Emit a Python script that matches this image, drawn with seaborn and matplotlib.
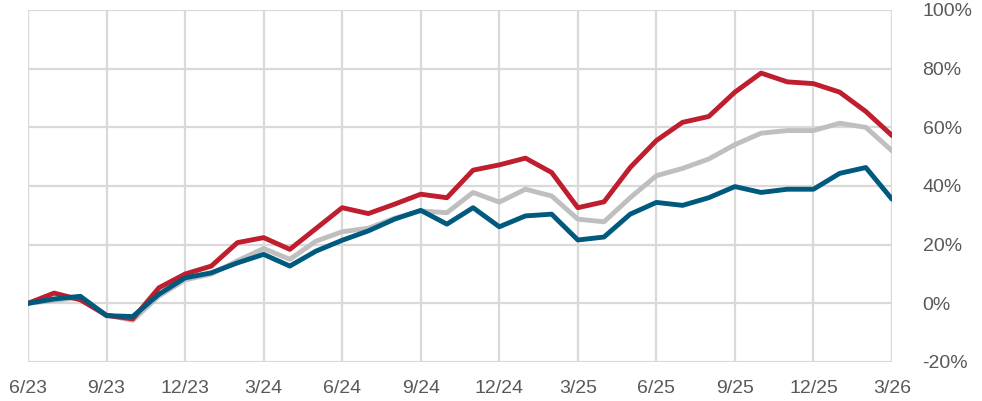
import numpy as np
import pandas as pd
import matplotlib
matplotlib.use("Agg")
import matplotlib.pyplot as plt
import seaborn as sns

# ---- data (cumulative return, %) monthly 6/23 .. 3/26 ----
months = pd.date_range("2023-06-01", "2026-03-01", freq="MS")
red_vals = [0, 3.5, 1.2, -4.1, -5.3, 5.3, 10, 12.7, 20.7, 22.4, 18.4, 25.5,
            32.6, 30.6, 33.8, 37.2, 36, 45.4, 47.2, 49.5, 44.6, 32.6, 34.6, 46.3,
            55.5, 61.7, 63.7, 72, 78.5, 75.5, 74.9, 72, 65.4, 57.2]
gray_vals = [0, 1.0, 2.0, -4.0, -5.8, 2.5, 8, 10, 14.5, 18.7, 15, 21.2,
             24.4, 25.6, 29, 31.5, 30.9, 37.8, 34.5, 38.9, 36.6, 28.7, 27.8, 36,
             43.5, 46, 49.2, 54.1, 58, 58.9, 58.9, 61.4, 60, 52]
blue_vals = [0, 1.5, 2.4, -4.2, -4.5, 3.1, 8.7, 10.4, 13.8, 16.7, 12.7, 17.8,
             21.5, 24.7, 28.7, 31.7, 27, 32.6, 26.1, 29.8, 30.4, 21.6, 22.6, 30.4,
             34.4, 33.4, 36, 39.8, 37.8, 38.9, 38.9, 44.3, 46.3, 35.5]
series_names = ["gray", "red", "blue"]
tick_labels = ["6/23", "9/23", "12/23", "3/24", "6/24", "9/24", "12/24",
               "3/25", "6/25", "9/25", "12/25", "3/26"]
y_ticks = [-20, 0, 20, 40, 60, 80, 100]

idx = np.arange(len(months))
df = pd.concat([
    pd.DataFrame({"i": idx, "value": gray_vals, "series": "gray"}),
    pd.DataFrame({"i": idx, "value": red_vals, "series": "red"}),
    pd.DataFrame({"i": idx, "value": blue_vals, "series": "blue"}),
])

sns.set_style("white")
plt.rcParams["font.family"] = ["Liberation Sans", "DejaVu Sans"]

fig = plt.figure(figsize=(9.82, 4.01), dpi=100)
ax = fig.add_axes([28 / 982, (401 - 362) / 401, (892 - 28) / 982, (362 - 10) / 401])

palette = {"gray": "#BFBFBF", "red": "#BE1E2D", "blue": "#005A7E"}
sns.lineplot(data=df, x="i", y="value", hue="series", hue_order=series_names,
             palette=palette, linewidth=3.5, ax=ax, legend=False, sort=False)

ax.set_xlim(0, len(months) - 1)
ax.set_ylim(-20, 100)
ax.set_xticks(np.arange(0, len(months), 3))
ax.set_xticklabels(tick_labels)
ax.set_yticks(y_ticks)
ax.set_yticklabels([f"{v}%" for v in y_ticks])
ax.yaxis.tick_right()
ax.set_xlabel("")
ax.set_ylabel("")

ax.grid(True, color="#D9D9D9", linewidth=1.6, zorder=0)
ax.set_axisbelow(True)
for s in ax.spines.values():
    s.set_visible(False)

ax.tick_params(axis="both", length=0, labelsize=14, labelcolor="#595959")
ax.tick_params(axis="y", pad=22)
ax.tick_params(axis="x", pad=13)

fig.savefig("out.png", dpi=100)
